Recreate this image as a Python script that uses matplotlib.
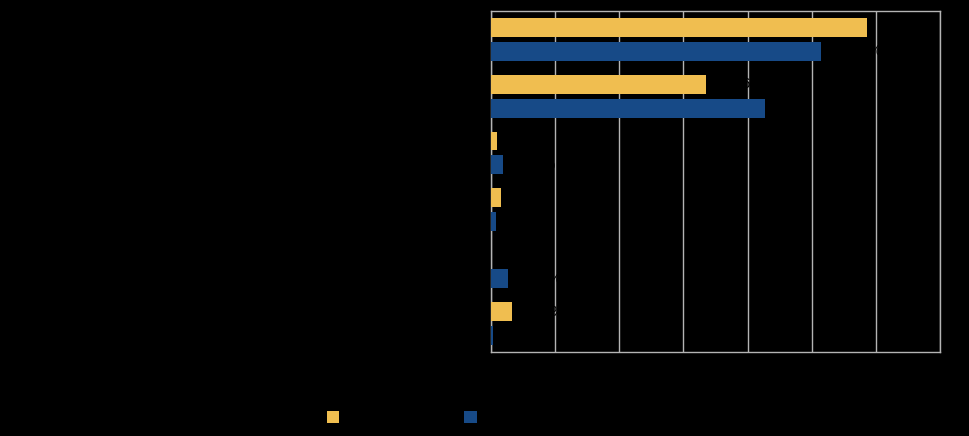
import numpy as np
import matplotlib.pyplot as plt

plt.rcParams['font.family'] = ['Liberation Sans', 'DejaVu Sans']

categories = ['Category 1', 'Category 2', 'Category 3',
              'Category 4', 'Category 5', 'Category 6']
series_names = ['Series 1', 'Series 2']
yellow_vals = [58.7, 33.6, 0.9, 1.6, 0.0, 3.3]
blue_vals = [51.4, 42.8, 1.9, 0.8, 2.7, 0.3]
xticks = [0, 10, 20, 30, 40, 50, 60, 70]

yellow = '#F0BE50'
blue = '#174A87'
grid = '#B4B4B4'

fig = plt.figure(figsize=(9.69, 4.36), dpi=100, facecolor='black')
ax = fig.add_axes([0.5067, 0.193, 0.4633, 0.782])
ax.set_facecolor('black')

y = np.arange(len(categories))
h = 0.333
b1 = ax.barh(y - 0.21, yellow_vals, height=h, color=yellow, label=series_names[0], zorder=3)
b2 = ax.barh(y + 0.21, blue_vals, height=h, color=blue, label=series_names[1], zorder=3)

fmt = lambda v: f'{v:.1f} %'.replace('.', ',')
ax.bar_label(b1, labels=[fmt(v) for v in yellow_vals], padding=11, color='black', fontsize=10.5, zorder=4)
ax.bar_label(b2, labels=[fmt(v) for v in blue_vals], padding=11, color='black', fontsize=10.5, zorder=4)

ax.set_ylim(len(categories) - 0.5, -0.5)
ax.set_xlim(0, 70)
ax.set_xticks(xticks)
ax.set_xticklabels([f'{t} %' for t in xticks], color='black', fontsize=10)
ax.set_yticks(y)
ax.set_yticklabels(categories, color='black', fontsize=10)
ax.tick_params(length=0)
ax.grid(axis='x', color=grid, linewidth=1, zorder=0)
for s in ax.spines.values():
    s.set_color(grid)
    s.set_linewidth(1)

leg = fig.legend(handles=[b1, b2], loc='center', bbox_to_anchor=(0.4446, 0.042),
                 ncol=2, frameon=False, fontsize=10, handlelength=0.9, handleheight=0.9,
                 handletextpad=0.5, columnspacing=4.8)
for t in leg.get_texts():
    t.set_color('black')

fig.savefig('out.png', dpi=100, facecolor='black')
